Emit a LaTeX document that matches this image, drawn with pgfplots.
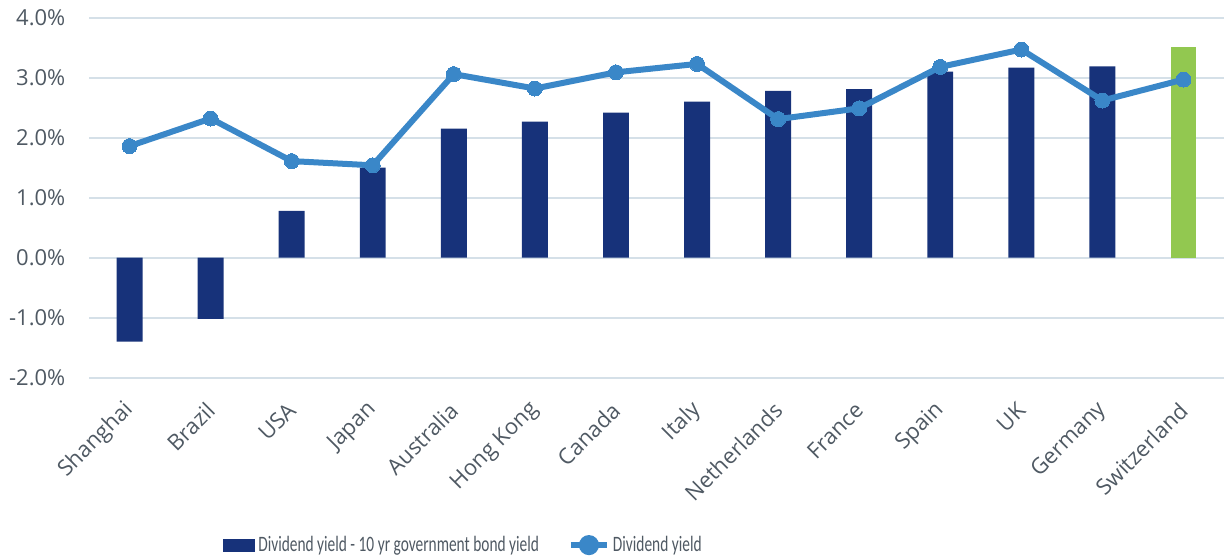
\documentclass[border=0pt]{standalone}
\usepackage{pgfplots}
\pgfplotsset{compat=1.18}
\usepackage{fontspec}
\setmainfont{Open Sans}
\newfontfamily\legfont[FakeStretch=0.7]{Carlito}
\definecolor{navy}{HTML}{17327A}
\definecolor{lgreen}{HTML}{92C850}
\definecolor{lblue}{HTML}{3A87C8}
\definecolor{gridc}{HTML}{D5E0E8}
\definecolor{txt}{HTML}{4F5963}
\begin{document}
\begin{tikzpicture}
\begin{axis}[
  at={(0,0)}, anchor=south west,
  scale only axis,
  width=567.5pt, height=180pt,
  xmin=-0.5, xmax=13.5,
  ymin=-2, ymax=4,
  axis line style={draw=none},
  major tick length=0pt,
  ymajorgrids,
  grid style={color=gridc, line width=0.8pt},
  ytick={-2,-1,0,1,2,3,4},
  yticklabels={-2.0\%,-1.0\%,0.0\%,1.0\%,2.0\%,3.0\%,4.0\%},
  yticklabel style={font=\fontsize{11}{13}\selectfont, text=txt, xshift=-8.3pt},
  xtick={0,...,13},
  xticklabels={Shanghai,Brazil,USA,Japan,Australia,Hong Kong,Canada,Italy,Netherlands,France,Spain,UK,Germany,Switzerland},
  xticklabel style={font=\fontsize{11}{13}\selectfont, text=txt, xshift=2.5pt, yshift=-12pt, rotate=45, anchor=east},
  legend style={at={(0.118,-0.465)}, anchor=west, draw=none, fill=none,
    inner sep=0pt, font=\legfont\fontsize{11}{13}\selectfont, text=txt,
    legend columns=2,
    /tikz/every even column/.append style={column sep=13pt},
    nodes={inner sep=1.5pt}},
  legend cell align=left,
]
\addplot[ybar, bar width=0.32, bar shift=0pt, fill=navy, draw=none,
  legend image code/.code={\fill[navy] (0pt,-3.3pt) rectangle (16pt,3.3pt);}]
  coordinates {(0,-1.40) (1,-1.02) (2,0.78) (3,1.50) (4,2.15) (5,2.27) (6,2.42) (7,2.60) (8,2.78) (9,2.81) (10,3.10) (11,3.17) (12,3.19)};
\addlegendentry{Dividend yield - 10 yr government bond yield}
\addplot[ybar, bar width=0.32, bar shift=0pt, fill=lgreen, draw=none, forget plot]
  coordinates {(13,3.51)};
\addplot[color=lblue, line width=3pt, mark=*, mark size=3.75pt, mark options={fill=lblue, draw=lblue, line width=0pt},
  legend image code/.code={\draw[lblue, line width=3pt] (0pt,0pt) -- (18pt,0pt); \fill[lblue] (9pt,0pt) circle (3.5pt);}]
  coordinates {(0,1.86) (1,2.32) (2,1.61) (3,1.54) (4,3.06) (5,2.82) (6,3.09) (7,3.23) (8,2.31) (9,2.49) (10,3.18) (11,3.47) (12,2.62) (13,2.97)};
\addlegendentry{Dividend yield}
\end{axis}
\pgfresetboundingbox
\path[use as bounding box] (-44.5pt,-90.15pt) rectangle (570pt,188.85pt);
\end{tikzpicture}
\end{document}
